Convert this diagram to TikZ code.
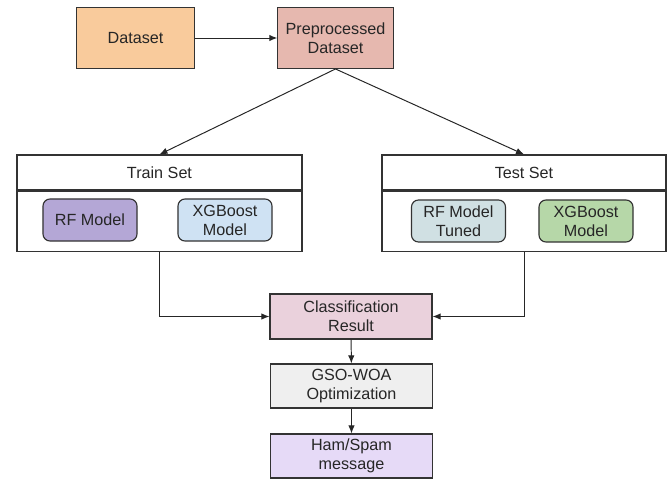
\documentclass[tikz,border=0pt]{standalone}
\usepackage{fontspec}
\setmainfont{Liberation Sans}
\usepackage{tikz}
\usetikzlibrary{arrows.meta,positioning}
\definecolor{cdata}{HTML}{F9CB9C}
\definecolor{cprep}{HTML}{E6B8AF}
\definecolor{crf}{HTML}{B4A7D6}
\definecolor{cxgb}{HTML}{CFE2F3}
\definecolor{crft}{HTML}{D0E0E3}
\definecolor{cxgbt}{HTML}{B6D7A8}
\definecolor{ccls}{HTML}{EAD1DC}
\definecolor{cgso}{HTML}{EFEFEF}
\definecolor{cham}{HTML}{E6DAF7}

\begin{document}
\begin{tikzpicture}[x=0.025cm,y=-0.025cm,
    box/.style={draw=black!80,line width=0.8pt,align=center,text=black!85,font=\fontsize{11.5}{13.5}\selectfont,inner sep=2pt},
    rbox/.style={box,rounded corners=5pt,minimum width=2.35cm,minimum height=1.05cm},
    hdr/.style={box,minimum height=0.875cm},
    arr/.style={-{Latex[length=2mm,width=1.6mm]},line width=0.7pt,black!85}]
    \useasboundingbox (0,0) rectangle (672,479);

    \node[box,fill=cdata,minimum width=2.93cm,minimum height=1.52cm] (data) at (135.5,38) {Dataset};
    \node[box,fill=cprep,minimum width=2.88cm,minimum height=1.52cm] (prep) at (335.5,38) {Preprocessed\\Dataset};

    \node[hdr,minimum width=7.125cm] (trainhd) at (159.5,172.5) {Train Set};
    \node[box,minimum width=7.125cm,minimum height=1.5cm,below=0pt of trainhd] (trainbd) {};
    \node[rbox,fill=crf] (rf) at (90,220) {RF Model};
    \node[rbox,fill=cxgb] (xgb) at (225,220) {XGBoost\\Model};

    \node[hdr,minimum width=7.1cm] (testhd) at (524,172.5) {Test Set};
    \node[box,minimum width=7.1cm,minimum height=1.5cm,below=0pt of testhd] (testbd) {};
    \node[rbox,fill=crft] (rft) at (458.5,221) {RF Model\\Tuned};
    \node[rbox,fill=cxgbt] (xgbt) at (586,221) {XGBoost\\Model};

    \node[box,fill=ccls,minimum width=4.05cm,minimum height=1.125cm] (cls) at (351,316.5) {Classification\\Result};
    \node[box,fill=cgso,minimum width=4.03cm,minimum height=1.1cm] (gso) at (351.5,386) {GSO-WOA\\Optimization};
    \node[box,fill=cham,minimum width=4.03cm,minimum height=1.1cm] (ham) at (351.5,456) {Ham/Spam\\message};

    \draw[arr] (data) -- (prep);
    \draw[arr] (prep.south) -- (trainhd.north);
    \draw[arr] (prep.south) -- (testhd.north);
    \draw[arr] (trainbd.south) |- (cls.west);
    \draw[arr] (testbd.south) |- (cls.east);
    \draw[arr] (cls) -- (gso);
    \draw[arr] (gso) -- (ham);
\end{tikzpicture}
\end{document}
